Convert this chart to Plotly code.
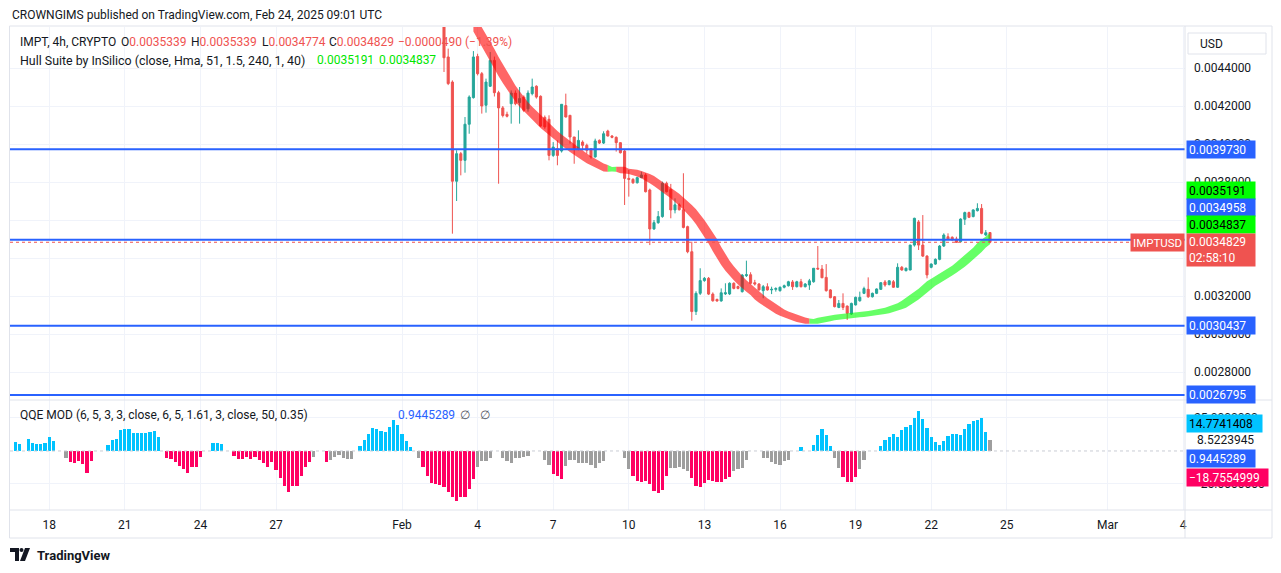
import plotly.graph_objects as go
import pandas as pd

# ---------------- data ----------------
candle_start = "2025-02-02 16:00"
opens = [0.00470, 0.004458, 0.004326, 0.003804, 0.003949, 0.003914, 0.004104, 0.004244, 0.004461, 0.004370,
         0.004204, 0.004304, 0.004440, 0.004270, 0.004190, 0.004156, 0.004212, 0.004268, 0.004218, 0.004247,
         0.004185, 0.004265, 0.004304, 0.004251, 0.004140, 0.004130, 0.003940, 0.003975, 0.003963, 0.004202,
         0.004151, 0.004037, 0.003975, 0.004010, 0.003993, 0.003975, 0.003932, 0.004019, 0.004005, 0.004068,
         0.004042, 0.004035, 0.004007, 0.003963, 0.003819, 0.003814, 0.003796, 0.003823, 0.003837, 0.003758,
         0.003553, 0.003586, 0.003618, 0.003793, 0.003760, 0.003653, 0.003680, 0.003654, 0.003565, 0.003433,
         0.003118, 0.003214, 0.003281, 0.003293, 0.003210, 0.003182, 0.003174, 0.003211, 0.003211, 0.003267,
         0.003250, 0.003223, 0.003307, 0.003312, 0.003270, 0.003263, 0.003228, 0.003249, 0.003232, 0.003235,
         0.003228, 0.003246, 0.003254, 0.003274, 0.003249, 0.003275, 0.003249, 0.003258, 0.003275, 0.003346,
         0.003342, 0.003298, 0.003232, 0.003196, 0.003140, 0.003161, 0.003147, 0.003105, 0.003153, 0.003175,
         0.003214, 0.003235, 0.003196, 0.003214, 0.003235, 0.003274, 0.003260, 0.003275, 0.003246, 0.003351,
         0.003333, 0.003337, 0.003468, 0.003590, 0.003468, 0.003410, 0.003351, 0.003368, 0.003393, 0.003463,
         0.003512, 0.003509, 0.003500, 0.003486, 0.003604, 0.003639, 0.003618, 0.003649, 0.003661, 0.003521,
         0.0035339]
highs = [0.00472, 0.004502, 0.004335, 0.003967, 0.003958, 0.004142, 0.004256, 0.004489, 0.004475, 0.004379,
         0.004344, 0.004484, 0.004460, 0.004280, 0.004200, 0.004170, 0.004282, 0.004282, 0.004300, 0.004256,
         0.004282, 0.004344, 0.004309, 0.004256, 0.004150, 0.004151, 0.004010, 0.004019, 0.004209, 0.004265,
         0.004151, 0.004037, 0.004072, 0.004019, 0.004002, 0.003975, 0.004028, 0.004024, 0.004067, 0.004075,
         0.004047, 0.004040, 0.004010, 0.003970, 0.003863, 0.003820, 0.003828, 0.003854, 0.003846, 0.003765,
         0.003600, 0.003647, 0.003802, 0.003802, 0.003790, 0.003714, 0.003688, 0.003846, 0.003570, 0.003486,
         0.003225, 0.003346, 0.003300, 0.003300, 0.003219, 0.003186, 0.003240, 0.003267, 0.003272, 0.003272,
         0.003255, 0.003316, 0.003386, 0.003325, 0.003285, 0.003268, 0.003258, 0.003267, 0.003249, 0.003246,
         0.003250, 0.003260, 0.003280, 0.003284, 0.003280, 0.003290, 0.003268, 0.003290, 0.003346, 0.003463,
         0.003363, 0.003368, 0.003236, 0.003200, 0.003179, 0.003214, 0.003150, 0.003165, 0.003197, 0.003223,
         0.003249, 0.003298, 0.003218, 0.003240, 0.003272, 0.003284, 0.003283, 0.003284, 0.003372, 0.003358,
         0.003350, 0.003470, 0.003612, 0.003600, 0.003626, 0.003415, 0.003372, 0.003398, 0.003468, 0.003530,
         0.003530, 0.003514, 0.003512, 0.003609, 0.003644, 0.003644, 0.003656, 0.003688, 0.003684, 0.003547,
         0.0035339]
lows = [0.004379, 0.004310, 0.003528, 0.003700, 0.003835, 0.003849, 0.004054, 0.004239, 0.004361, 0.004160,
        0.004165, 0.004300, 0.004250, 0.003791, 0.004140, 0.004140, 0.004107, 0.004204, 0.004107, 0.004168,
        0.004170, 0.004256, 0.004239, 0.004090, 0.004080, 0.003914, 0.003932, 0.003888, 0.003955, 0.004140,
        0.004002, 0.003896, 0.003967, 0.003967, 0.003949, 0.003923, 0.003928, 0.004000, 0.004000, 0.004040,
        0.004030, 0.003960, 0.003950, 0.003679, 0.003723, 0.003790, 0.003792, 0.003820, 0.003745, 0.003468,
        0.003548, 0.003580, 0.003612, 0.003745, 0.003609, 0.003635, 0.003650, 0.003556, 0.003425, 0.003070,
        0.003100, 0.003205, 0.003275, 0.003205, 0.003170, 0.003170, 0.003170, 0.003205, 0.003205, 0.003235,
        0.003235, 0.003218, 0.003300, 0.003262, 0.003255, 0.003228, 0.003188, 0.003228, 0.003210, 0.003223,
        0.003223, 0.003240, 0.003250, 0.003232, 0.003245, 0.003245, 0.003245, 0.003232, 0.003270, 0.003340,
        0.003294, 0.003223, 0.003188, 0.003140, 0.003136, 0.003126, 0.003074, 0.003100, 0.003150, 0.003170,
        0.003210, 0.003190, 0.003192, 0.003210, 0.003232, 0.003249, 0.003256, 0.003243, 0.003243, 0.003333,
        0.003330, 0.003335, 0.003460, 0.003442, 0.003405, 0.003293, 0.003346, 0.003364, 0.003388, 0.003458,
        0.003497, 0.003492, 0.003479, 0.003482, 0.003574, 0.003610, 0.003614, 0.003645, 0.003525, 0.003516,
        0.0034774]
closes = [0.004454, 0.004318, 0.003804, 0.003949, 0.003914, 0.004104, 0.004247, 0.004458, 0.004370, 0.004200,
          0.004326, 0.004440, 0.004270, 0.004190, 0.004150, 0.004146, 0.004268, 0.004212, 0.004239, 0.004177,
          0.004268, 0.004300, 0.004247, 0.004095, 0.004090, 0.003940, 0.003984, 0.003940, 0.004209, 0.004142,
          0.004037, 0.003975, 0.004019, 0.003993, 0.003967, 0.003932, 0.004016, 0.004005, 0.004054, 0.004042,
          0.004035, 0.004007, 0.003954, 0.003819, 0.003814, 0.003796, 0.003823, 0.003837, 0.003749, 0.003553,
          0.003586, 0.003618, 0.003793, 0.003749, 0.003653, 0.003680, 0.003654, 0.003561, 0.003433, 0.003118,
          0.003214, 0.003281, 0.003293, 0.003210, 0.003175, 0.003174, 0.003217, 0.003217, 0.003267, 0.003240,
          0.003240, 0.003310, 0.003312, 0.003267, 0.003263, 0.003232, 0.003249, 0.003232, 0.003235, 0.003239,
          0.003246, 0.003254, 0.003275, 0.003249, 0.003275, 0.003249, 0.003263, 0.003280, 0.003346, 0.003342,
          0.003296, 0.003228, 0.003191, 0.003144, 0.003161, 0.003140, 0.003109, 0.003161, 0.003193, 0.003193,
          0.003239, 0.003196, 0.003214, 0.003237, 0.003270, 0.003258, 0.003280, 0.003246, 0.003351, 0.003337,
          0.003346, 0.003468, 0.003609, 0.003468, 0.003410, 0.003311, 0.003368, 0.003393, 0.003463, 0.003521,
          0.003500, 0.003495, 0.003482, 0.003605, 0.003639, 0.003614, 0.003653, 0.003661, 0.003530, 0.003533,
          0.0034829]

# Hull Suite (MHULL), from the 6th candle onward
hull_start_index = 5
hull = [0.004679, 0.004642, 0.004603, 0.004566, 0.004529, 0.004488, 0.004447, 0.004408, 0.004368, 0.004332,
        0.004297, 0.004266, 0.004235, 0.004208, 0.004184, 0.004162, 0.004140, 0.004118, 0.004096, 0.004076,
        0.004057, 0.004039, 0.004022, 0.004004, 0.003986, 0.003969, 0.003954, 0.003938, 0.003924, 0.003910,
        0.003897, 0.003886, 0.003878, 0.003867, 0.003866, 0.003868, 0.003869, 0.003858, 0.003856, 0.003853,
        0.003847, 0.003840, 0.003831, 0.003820, 0.003805, 0.003791, 0.003775, 0.003759, 0.003742, 0.003726,
        0.003708, 0.003687, 0.003667, 0.003645, 0.003618, 0.003589, 0.003556, 0.003523, 0.003488, 0.003447,
        0.003408, 0.003374, 0.003345, 0.003317, 0.003294, 0.003272, 0.003252, 0.003234, 0.003217, 0.003193,
        0.003176, 0.003162, 0.003147, 0.003132, 0.003118, 0.003107, 0.003098, 0.003090, 0.003083, 0.003075,
        0.003070, 0.003066, 0.003065, 0.003068, 0.003074, 0.003079, 0.003084, 0.003087, 0.003090, 0.003093,
        0.003095, 0.003097, 0.003099, 0.003101, 0.003103, 0.003106, 0.003109, 0.003113, 0.003117, 0.003121,
        0.003126, 0.003134, 0.003142, 0.003150, 0.003163, 0.003178, 0.003193, 0.003209, 0.003226, 0.003247,
        0.003266, 0.003279, 0.003292, 0.003305, 0.003320, 0.003334, 0.003348, 0.003366, 0.003384, 0.003402,
        0.003422, 0.003443, 0.003467, 0.0034837, 0.003502, 0.0035191]

# QQE MOD histogram (value, state: u = up/blue, d = down/red, n = neutral/grey)
qqe_end = "2025-02-24 08:00"
qqe_values = [7.1, 5.4, 0, 8.7, 6.1, 5.6, 5.6, 6.4, 10.7, 7.7,
              0, 0, -5.1, -8.7, -9.4, -7.7, -9.7, -16.6, -7.4, 0,
              0, 0, 4.6, 8.2, 8.9, 15.6, 16.8, 16.8, 13.8, 13.8,
              13.5, 13.8, 14.3, 14.8, 10.7, 0, -5.6, -6.4, -8.2, -11.2,
              -13.3, -16.6, -12.2, -12.2, -4.8, 0, 0, 6.1, 6.1, 5.1,
              0, 0, -3.8, -6.1, -6.1, -4.6, -6.1, -4.3, -6.9, -9.4,
              -12.0, -8.7, -14.5, -20.4, -26.5, -31.1, -26.8, -26.8, -18.9, -12.0,
              -8.7, -4.3, 0, 0, -8.7, -6.9, -4.3, -3.1, -5.6, -6.1,
              -6.1, 0, 3.8, 8.4, 12.8, 17.3, 16.6, 14.8, 14.0, 18.4,
              23.5, 19.9, 12.8, 7.7, 3.1, 0, -5.6, -12.0, -18.9, -24.0,
              -25.0, -25.5, -27.3, -31.1, -35.2, -37.8, -34.9, -34.9, -28.6, -21.4,
              -12.2, -7.7, -7.7, -5.6, 0, 0, -5.1, -7.4, -8.9, -5.6,
              -5.1, -4.8, -3.6, 0, 0, 0, -6.6, -10.7, -17.3, -18.9,
              -21.2, -11.2, -6.6, -7.1, -8.9, -8.9, -8.9, -10.7, -12.8, -8.9,
              -7.4, 0, 0, 0, 0, -5.6, -13.5, -18.9, -22.7, -23.5,
              -22.7, -25.0, -30.4, -31.9, -29.8, -18.9, -12.8, -12.8, -12.0, -13.3,
              -15.1, -20.4, -26.5, -27.3, -24.2, -22.2, -22.7, -23.5, -23.5, -21.2,
              -19.6, -15.1, -13.5, -12.8, -6.6, 0, 0, 0, -5.6, -5.6,
              -8.2, -9.7, -10.7, -7.4, -6.6, 0, 0, 3.1, 0, 0,
              4.6, 12.2, 16.8, 12.2, 3.8, -5.1, -12.8, -19.6, -23.5, -23.5,
              -19.6, -13.3, -6.6, 0, 0, 0, 3.8, 8.4, 10.7, 12.8,
              10.7, 16.1, 18.4, 19.9, 25.0, 30.6, 24.5, 17.3, 10.7, 6.6,
              4.6, 7.7, 11.5, 12.8, 12.8, 12.2, 16.8, 20.7, 22.4, 23.7,
              25.0, 14.3, 8.5223945]
qqe_states = list(
    "uunuuuuuuu" "nnnddddddn" "nnuuuuuuuu" "uuuuundddd" "dddddnnuuu"
    "nndddddddd" "dddddddddd" "dnnndnnnnn" "nnuuuuuuuu" "uuuuunnddd"
    "dddddddddd" "nnnnnnnnnn" "nnnnnnnndd" "dnnnnnnnnn" "nnnnnnnddd"
    "ddddddnnnn" "nddddddddd" "dnnnnnnnnn" "nnnnnnnunn" "uuuuunnddd"
    "dnnnnnuuuu" "uuuuuuuuuu" "uuuuuuuuuu" "uun")

# axis ticks
date_ticks = ["2025-01-18", "2025-01-21", "2025-01-24", "2025-01-27", "2025-02-01", "2025-02-04",
              "2025-02-07", "2025-02-10", "2025-02-13", "2025-02-16", "2025-02-19", "2025-02-22",
              "2025-02-25", "2025-03-01", "2025-03-04"]
date_tick_labels = ["18", "21", "24", "27", "Feb", "4", "7", "10", "13", "16", "19", "22", "25", "Mar", "4"]
price_ticks = [0.0028, 0.0030, 0.0032, 0.0034, 0.0036, 0.0038, 0.0040, 0.0042, 0.0044]
price_tick_labels = ["0.0028000", "0.0030000", "0.0032000", "0.0034000", "0.0036000",
                     "0.0038000", "0.0040000", "0.0042000", "0.0044000"]
qqe_ticks = [-25, 25]
qqe_tick_labels = ["\u221225.0000000", "25.0000000"]
levels = [0.0039730, 0.0034958, 0.0030437, 0.0026795]
last_price = 0.0034829

# ---------------- layout helpers ----------------
W, Hh = 1281, 573
L, R, T, B = 10, 1185, 27, 510
PW, PH = R - L, B - T


def px(x):
    return (x - L) / PW


def py(y):
    return (B - y) / PH


FONT = "Roboto, Arial, sans-serif"
DARK = "#131722"
GRID = "#f0f3fa"
RED = "#ef5350"
GREEN = "#26a69a"
BLUE = "#2962ff"

ctimes = pd.date_range(candle_start, periods=len(opens), freq="4h")
htimes = ctimes[hull_start_index:]
qtimes = pd.date_range(end=qqe_end, periods=len(qqe_values), freq="4h")

fig = go.Figure()

fig.add_trace(go.Candlestick(
    x=ctimes, open=opens, high=highs, low=lows, close=closes,
    increasing=dict(line=dict(color=GREEN, width=1), fillcolor=GREEN),
    decreasing=dict(line=dict(color=RED, width=1), fillcolor=RED),
    whiskerwidth=0, xaxis="x", yaxis="y", hoverinfo="skip", showlegend=False))

# Hull band: fill between hull[k] and hull[k-2], colored by direction
pad = 0.0000115
segs = []
cur = None
for k in range(2, len(hull)):
    col = "g" if hull[k] > hull[k - 2] else "r"
    if cur is None or cur[0] != col:
        if cur is not None:
            segs.append(cur)
        cur = [col, [k - 1] if k > 2 else []]
    cur[1].append(k)
segs.append(cur)
for col, ks in segs:
    ks = [k for k in ks if k >= 2]
    up = [max(hull[k], hull[k - 2]) + pad for k in ks]
    lo = [min(hull[k], hull[k - 2]) - pad for k in ks]
    xs = [htimes[k] for k in ks]
    fc = "rgba(0,255,0,0.6)" if col == "g" else "rgba(255,0,0,0.6)"
    fig.add_trace(go.Scatter(x=xs + xs[::-1], y=up + lo[::-1], fill="toself", fillcolor=fc,
                             mode="lines", line=dict(width=0, color=fc), xaxis="x", yaxis="y",
                             hoverinfo="skip", showlegend=False))

cmap = {"u": "#00c3ff", "d": "#ff0062", "n": "#9e9e9e"}
fig.add_trace(go.Bar(x=qtimes, y=qqe_values, marker=dict(color=[cmap[s] for s in qqe_states], line=dict(width=0)),
                     width=0.72 * 4 * 3600 * 1000, xaxis="x", yaxis="y2", hoverinfo="skip", showlegend=False))

shapes = []
for lv in levels:
    shapes.append(dict(type="line", xref="paper", yref="y", x0=0, x1=1, y0=lv, y1=lv,
                       line=dict(color=BLUE, width=2), layer="above"))
shapes.append(dict(type="line", xref="paper", yref="y", x0=0, x1=px(1130), y0=last_price, y1=last_price,
                   line=dict(color=RED, width=1, dash="dot"), layer="above"))
shapes.append(dict(type="line", xref="paper", yref="y2", x0=0, x1=1, y0=0, y1=0,
                   line=dict(color="#c9ccd4", width=1, dash="dot"), layer="above"))
# frame / separators
sep = "#e0e3eb"
shapes.append(dict(type="line", xref="paper", yref="paper", x0=px(10), x1=px(1272), y0=py(400), y1=py(400),
                   line=dict(color=sep, width=1)))
shapes.append(dict(type="line", xref="paper", yref="paper", x0=px(1185), x1=px(1185), y0=py(26), y1=py(538),
                   line=dict(color=sep, width=1)))
shapes.append(dict(type="line", xref="paper", yref="paper", x0=px(10), x1=px(1272), y0=py(510), y1=py(510),
                   line=dict(color=sep, width=1)))
shapes.append(dict(type="rect", xref="paper", yref="paper", x0=px(9.5), x1=px(1272), y0=py(26), y1=py(538),
                   line=dict(color=sep, width=1)))
# USD box
shapes.append(dict(type="rect", xref="paper", yref="paper", x0=px(1188), x1=px(1266), y0=py(33), y1=py(54),
                   line=dict(color=sep, width=1), fillcolor="white"))
# TradingView logo
logo_t = "M {} {} L {} {} L {} {} L {} {} L {} {} L {} {} Z".format(
    px(10), py(548), px(19), py(548), px(19), py(561), px(15), py(561), px(15), py(552), px(10), py(552))
shapes.append(dict(type="path", xref="paper", yref="paper", path=logo_t, fillcolor=DARK, line=dict(width=0)))
shapes.append(dict(type="circle", xref="paper", yref="paper", x0=px(19.5), x1=px(23.5), y0=py(548), y1=py(552),
                   fillcolor=DARK, line=dict(width=0)))
logo_v = "M {} {} L {} {} L {} {} L {} {} Z".format(
    px(25), py(548), px(30), py(548), px(25), py(561), px(20), py(561))
shapes.append(dict(type="path", xref="paper", yref="paper", path=logo_v, fillcolor=DARK, line=dict(width=0)))

ann = []


def text(x, y, s, color=DARK, size=12, anchor="left", **kw):
    ann.append(dict(xref="paper", yref="paper", x=px(x), y=py(y), text=s, showarrow=False,
                    xanchor=anchor, yanchor="middle", font=dict(family=FONT, size=size, color=color), **kw))


def label(x, y, s, bg, color="white", w=64, h=13, size=12):
    ann.append(dict(xref="paper", yref="paper", x=px(x), y=py(y), text=s, showarrow=False,
                    xanchor="left", yanchor="middle", bgcolor=bg, borderpad=2, width=w, height=h,
                    align="left", font=dict(family=FONT, size=size, color=color)))


text(10, 15, "CROWNGIMS published on TradingView.com, Feb 24, 2025 09:01 UTC", size=12)
text(18, 42.5, "IMPT, 4h, CRYPTO")
rs = "<span style='color:%s'>%s</span>"
text(119, 42.5, "O" + rs % (RED, "0.0035339"))
text(189, 42.5, "H" + rs % (RED, "0.0035339"))
text(260, 42.5, "L" + rs % (RED, "0.0034774"))
text(327, 42.5, "C" + rs % (RED, "0.0034829"))
text(396, 42.5, "\u22120.0000490 (\u22121.39%)", color=RED)
text(18, 60, "Hull Suite by InSilico (close, Hma, 51, 1.5, 240, 1, 40)", size=12.4)
text(315, 60, "0.0035191", color="#00e600")
text(377, 60, "0.0034837", color="#00e600")
text(18, 415, "QQE MOD (6, 5, 3, 3, close, 6, 5, 1.61, 3, close, 50, 0.35)")
text(396, 415, "0.9445289", color=BLUE)
text(458, 415, "\u2205", color="#50535e")
text(478, 415, "\u2205", color="#50535e")
text(1198, 43.5, "USD")
text(35, 555, "<b>TradingView</b>", size=13)

label(1186, 149, "0.0039730", BLUE)
label(1186, 190.5, "0.0035191", "#00ff00", color="black")
label(1186, 207.5, "0.0034958", BLUE)
label(1186, 224.5, "0.0034837", "#00ff00", color="black")
label(1186, 249.5, "0.0034829<br>02:58:10", RED, h=28)
label(1130, 242, "IMPTUSD", RED, w=49, size=11.5)
label(1186, 325, "0.0030437", BLUE)
label(1186, 394, "0.0026795", BLUE)
label(1186, 423, "14.7741408", "#00c3ff", color="black", w=71)
text(1195, 440, "8.5223945")
label(1186, 458, "0.9445289", BLUE, w=64)
label(1186, 477, "\u221218.7554999", "#ff0062", w=77)

main_dom = [py(400), 1]
qqe_dom = [0, py(400)]

fig.update_layout(
    width=W, height=Hh, margin=dict(l=L, r=W - R, t=T, b=Hh - B),
    paper_bgcolor="white", plot_bgcolor="white", showlegend=False, bargap=0,
    font=dict(family=FONT, size=12, color=DARK),
    xaxis=dict(type="date", range=["2025-01-16 10:40", "2025-03-04 01:43"], anchor="y2",
               tickvals=date_ticks, ticktext=date_tick_labels, showgrid=True, gridcolor=GRID,
               zeroline=False, showline=False, ticks="", ticklabelstandoff=6,
               rangeslider=dict(visible=False), tickfont=dict(size=12, color=DARK, family=FONT)),
    yaxis=dict(domain=main_dom, range=[0.00265263, 0.00461579], side="right", anchor="x",
               tickvals=price_ticks, ticktext=price_tick_labels, showgrid=True, gridcolor=GRID,
               zeroline=False, showline=False, ticks="", ticklabelstandoff=8,
               tickfont=dict(size=12, color=DARK, family=FONT)),
    yaxis2=dict(domain=qqe_dom, range=[-44.7, 38.6], side="right", anchor="x",
                tickvals=qqe_ticks, ticktext=qqe_tick_labels, showgrid=True, gridcolor=GRID,
                zeroline=False, showline=False, ticks="", ticklabelstandoff=8,
                tickfont=dict(size=12, color=DARK, family=FONT)),
    shapes=shapes, annotations=ann,
)

fig.write_html("out.html")
